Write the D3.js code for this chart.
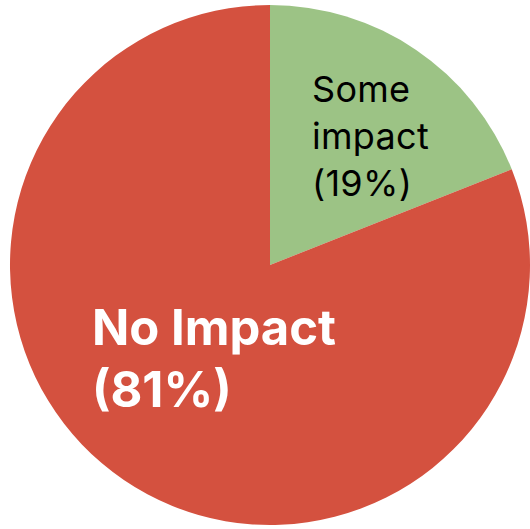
<!DOCTYPE html>
<html>
<head>
<meta charset="utf-8">
<script src="https://cdn.jsdelivr.net/npm/d3@7"></script>
<style>
  body { margin: 0; background: #fff; }
  svg { display: block; }
  text { font-family: Inter, "Noto Sans", sans-serif; }
</style>
</head>
<body>
<div id="chart"></div>
<script>
const categories = ['Some impact', 'No Impact'];
const values = [19, 81];
const labelLines = [['Some', 'impact', '(19%)'], ['No Impact', '(81%)']];
const colors = ['#9cc385', '#d4513f'];

const width = 530, height = 529;
const cx = 270, cy = 265, radius = 260;

const svg = d3.select('#chart')
  .append('svg')
  .attr('width', width)
  .attr('height', height);

const g = svg.append('g')
  .attr('transform', `translate(${cx},${cy})`);

const pie = d3.pie().sort(null).value(d => d.value);
const arc = d3.arc().innerRadius(0).outerRadius(radius);

const data = categories.map((c, i) => ({ name: c, value: values[i], lines: labelLines[i] }));
const arcs = pie(data);

g.selectAll('path')
  .data(arcs)
  .enter()
  .append('path')
  .attr('d', arc)
  .attr('fill', (d, i) => colors[i]);

// labels
const labelStyle = [
  { x: 42, y: -163, size: 36, weight: 400, fill: '#000', lh: 47, ls: 0.3 },
  { x: -178, y: 80, size: 49, weight: 700, fill: '#fff', lh: 62, ls: 0 }
];

arcs.forEach((d, i) => {
  const s = labelStyle[i];
  const t = g.append('text')
    .attr('x', s.x)
    .attr('y', s.y)
    .attr('fill', s.fill)
    .attr('font-size', s.size)
    .attr('font-weight', s.weight)
    .attr('letter-spacing', s.ls);
  d.data.lines.forEach((line, j) => {
    t.append('tspan')
      .attr('x', s.x)
      .attr('y', s.y + j * s.lh)
      .text(line);
  });
});
</script>
</body>
</html>
